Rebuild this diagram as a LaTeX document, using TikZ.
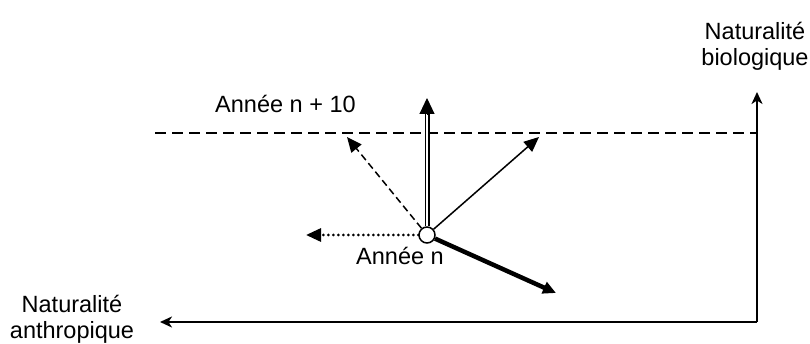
\documentclass[tikz,border=0pt]{standalone}
\usepackage{fontspec}
\setmainfont{Liberation Sans}
\usetikzlibrary{arrows.meta}

\begin{document}
\begin{tikzpicture}[x=1pt, y=-1pt,
    axe/.style={line width=1.8pt, -{Stealth[length=12pt, width=11pt, inset=3.5pt]}},
    fleche/.style={-{Triangle[length=15pt, width=13pt]}},
    lbl/.style={font=\fontsize{23.5}{26}\selectfont, align=center, inner sep=0pt}]
        \useasboundingbox (0,0) rectangle (810,344);

        % axes
        \coordinate (o) at (757,322);
        \coordinate (bio) at (757,92);
        \coordinate (anth) at (160,322);
        \draw[axe] (o) -- (bio);
        \draw[axe] (o) -- (anth);
        \node[lbl] (tbio) at (755,46) {Naturalité\\biologique};
        \node[lbl] (tanth) at (72,319) {Naturalité\\anthropique};

        % horizon n + 10
        \coordinate (h1) at (155,133);
        \coordinate (h2) at (757,133);
        \draw[line width=1.5pt, dash pattern=on 11pt off 6pt] (h1) -- (h2);
        \node[lbl, anchor=base west] (tn10) at (215,113) {Année n + 10};

        % point de depart
        \node[circle, draw, line width=1.5pt, fill=white, minimum size=16pt, inner sep=0pt] (n) at (427,235) {};
        \node[lbl, anchor=base west] (tn) at (356,265) {Année n};

        % trajectoires
        \coordinate (up) at (427,98);
        \coordinate (upbase) at (427,114);
        \coordinate (ul) at (347,137);
        \coordinate (ur) at (539,137);
        \coordinate (le) at (306,235);
        \coordinate (dr) at (556,293);
        \draw[double, double distance=2.4pt, line width=1.3pt] (n) -- (upbase);
        \draw[line width=1pt, -{Triangle[length=16pt, width=15pt]}] (upbase) -- (up);
        \draw[fleche, line width=1.5pt, dash pattern=on 7pt off 4pt] (n) -- (ul);
        \draw[fleche, line width=1.5pt] (n) -- (ur);
        \draw[line width=3pt, line cap=round, dash pattern=on 0pt off 5pt, -{Triangle[length=15pt, width=13pt, line cap=butt]}] (n) -- (le);
        \draw[line width=4.5pt, -{Triangle[length=13pt, width=12pt]}] (n) -- (dr);
\end{tikzpicture}
\end{document}
